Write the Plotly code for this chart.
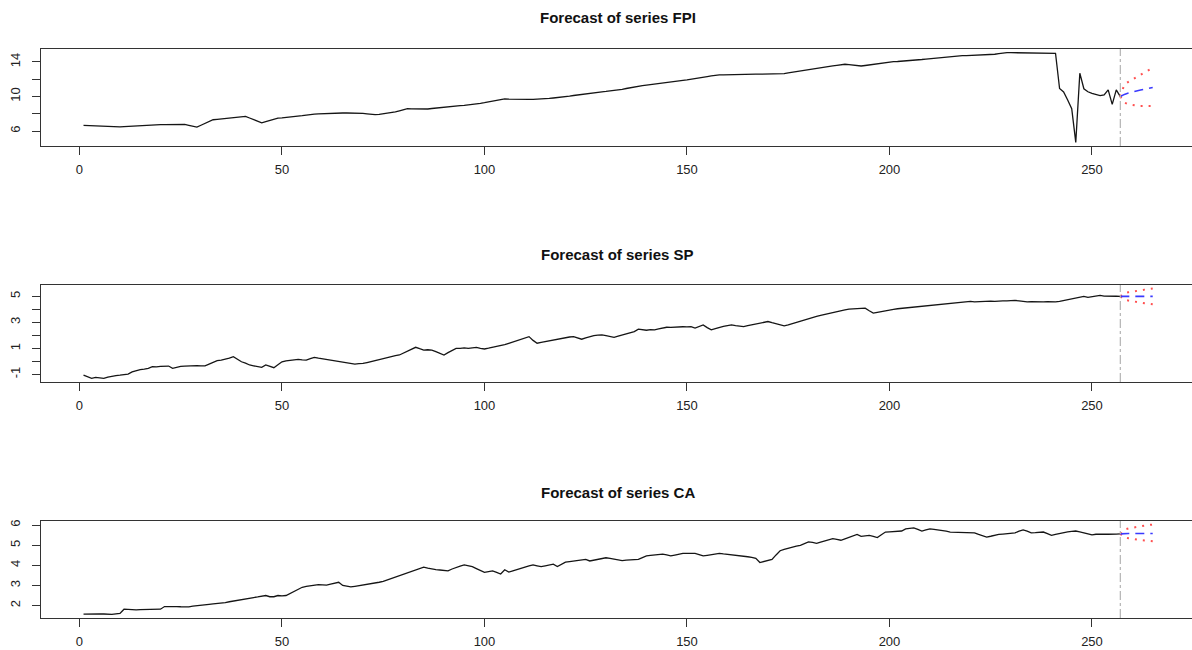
import plotly.graph_objects as go

# ---------------- data ----------------
n_obs = 257
fc_steps = [257, 258, 259, 260, 261, 262, 263, 264, 265]

fpi = [
    6.66, 6.64, 6.61, 6.59, 6.56, 6.54, 6.51, 6.49, 6.46, 6.49,
    6.53, 6.56, 6.60, 6.63, 6.67, 6.70, 6.74, 6.74, 6.75, 6.75,
    6.76, 6.76, 6.77, 6.77, 6.78, 6.78, 6.67, 6.57, 6.46, 6.68,
    6.89, 7.11, 7.32, 7.37, 7.41, 7.46, 7.51, 7.56, 7.60, 7.65,
    7.70, 7.52, 7.33, 7.15, 6.97, 7.10, 7.24, 7.37, 7.50, 7.53,
    7.57, 7.60, 7.63, 7.71, 7.79, 7.86, 7.94, 7.97, 7.99, 8.02,
    8.05, 8.07, 8.10, 8.10, 8.10, 8.10, 8.10, 8.10, 8.10, 8.05,
    8.00, 7.95, 7.90, 7.95, 8.00, 8.05, 8.10, 8.22, 8.35, 8.47,
    8.60, 8.57, 8.55, 8.52, 8.50, 8.56, 8.62, 8.68, 8.74, 8.80,
    8.84, 8.88, 8.92, 8.96, 8.99, 9.03, 9.07, 9.14, 9.22, 9.29,
    9.37, 9.46, 9.54, 9.63, 9.72, 9.70, 9.68, 9.67, 9.65, 9.66,
    9.67, 9.67, 9.68, 9.69, 9.74, 9.78, 9.83, 9.87, 9.92, 9.96,
    10.04, 10.12, 10.19, 10.27, 10.35, 10.40, 10.45, 10.50, 10.55, 10.59,
    10.64, 10.69, 10.74, 10.84, 10.93, 11.03, 11.12, 11.19, 11.25, 11.32,
    11.39, 11.45, 11.52, 11.58, 11.64, 11.70, 11.76, 11.82, 11.88, 11.93,
    11.99, 12.05, 12.14, 12.22, 12.31, 12.39, 12.48, 12.50, 12.51, 12.53,
    12.54, 12.56, 12.57, 12.59, 12.60, 12.60, 12.59, 12.59, 12.59, 12.58,
    12.58, 12.57, 12.57, 12.65, 12.74, 12.82, 12.90, 12.97, 13.05, 13.12,
    13.19, 13.27, 13.34, 13.41, 13.47, 13.54, 13.60, 13.67, 13.73, 13.68,
    13.63, 13.58, 13.53, 13.59, 13.66, 13.72, 13.78, 13.84, 13.91, 13.97,
    14.03, 14.05, 14.08, 14.10, 14.12, 14.17, 14.22, 14.28, 14.33, 14.38,
    14.43, 14.48, 14.52, 14.57, 14.61, 14.66, 14.70, 14.72, 14.73, 14.75,
    14.76, 14.78, 14.79, 14.81, 14.82, 14.89, 14.95, 15.02, 15.08, 15.07,
    15.07, 15.06, 15.05, 15.05, 15.04, 15.03, 15.03, 15.02, 15.01, 15.01,
    15.00, 10.93, 10.54, 9.60, 8.60, 4.70, 12.70, 10.90, 10.55, 10.36,
    10.25, 10.10, 10.20, 10.78, 9.10, 10.78, 10.00,
]
fpi_fc = [10.00, 10.25, 10.40, 10.55, 10.65, 10.75, 10.85, 10.95, 11.05]
fpi_up = [10.00, 11.40, 11.70, 12.00, 12.30, 12.55, 12.80, 13.05, 13.30]
fpi_lo = [10.00, 9.30, 9.10, 9.00, 8.95, 8.90, 8.90, 8.90, 8.90]

sp = [
    -1.05, -1.20, -1.30, -1.22, -1.26, -1.30, -1.20, -1.12, -1.08, -1.05,
    -1.01, -0.97, -0.80, -0.70, -0.62, -0.58, -0.53, -0.40, -0.42, -0.38,
    -0.36, -0.35, -0.53, -0.45, -0.38, -0.35, -0.33, -0.34, -0.32, -0.34,
    -0.33, -0.20, -0.05, 0.06, 0.10, 0.16, 0.25, 0.37, 0.15, -0.02,
    -0.12, -0.27, -0.33, -0.40, -0.45, -0.27, -0.35, -0.48, -0.25, -0.02,
    0.05, 0.10, 0.12, 0.16, 0.12, 0.10, 0.22, 0.32, 0.25, 0.20,
    0.18, 0.14, 0.10, 0.05, -0.02, -0.08, -0.15, -0.20, -0.16, -0.15,
    -0.08, 0.00, 0.08, 0.16, 0.24, 0.30, 0.38, 0.45, 0.50, 0.66,
    0.81, 0.95, 1.09, 0.98, 0.88, 0.90, 0.88, 0.75, 0.62, 0.50,
    0.68, 0.85, 1.01, 1.00, 1.05, 1.01, 1.06, 1.09, 1.00, 0.96,
    1.02, 1.08, 1.14, 1.19, 1.30, 1.40, 1.50, 1.60, 1.70, 1.80,
    1.91, 1.62, 1.40, 1.46, 1.52, 1.60, 1.66, 1.72, 1.79, 1.83,
    1.88, 1.91, 1.80, 1.71, 1.82, 1.92, 1.99, 2.02, 2.04, 1.98,
    1.92, 1.86, 1.95, 2.04, 2.13, 2.22, 2.30, 2.48, 2.45, 2.40,
    2.44, 2.43, 2.50, 2.57, 2.63, 2.62, 2.65, 2.64, 2.67, 2.66,
    2.68, 2.56, 2.70, 2.81, 2.60, 2.43, 2.53, 2.63, 2.70, 2.76,
    2.81, 2.76, 2.72, 2.68, 2.75, 2.82, 2.87, 2.94, 3.00, 3.07,
    2.98, 2.88, 2.80, 2.74, 2.82, 2.92, 3.00, 3.07, 3.17, 3.27,
    3.37, 3.46, 3.54, 3.62, 3.70, 3.77, 3.84, 3.90, 3.97, 4.03,
    4.05, 4.07, 4.10, 4.10, 3.90, 3.72, 3.78, 3.85, 3.91, 3.97,
    4.01, 4.05, 4.08, 4.12, 4.15, 4.18, 4.22, 4.25, 4.29, 4.32,
    4.36, 4.40, 4.42, 4.45, 4.48, 4.51, 4.55, 4.58, 4.61, 4.62,
    4.58, 4.60, 4.58, 4.61, 4.63, 4.62, 4.65, 4.66, 4.65, 4.68,
    4.69, 4.66, 4.62, 4.58, 4.60, 4.58, 4.55, 4.58, 4.60, 4.57,
    4.58, 4.62, 4.68, 4.74, 4.80, 4.86, 4.93, 5.00, 4.92, 4.96,
    5.02, 5.08, 5.02, 5.00, 4.98, 5.01, 5.00,
]
sp_fc = [5.00, 5.00, 5.00, 5.00, 5.00, 5.00, 5.00, 5.00, 5.00]
sp_up = [5.00, 5.25, 5.32, 5.38, 5.43, 5.48, 5.52, 5.56, 5.60]
sp_lo = [5.00, 4.75, 4.68, 4.62, 4.57, 4.52, 4.48, 4.44, 4.40]

ca = [
    1.57, 1.58, 1.60, 1.61, 1.59, 1.58, 1.57, 1.56, 1.59, 1.61,
    1.82, 1.80, 1.78, 1.79, 1.80, 1.81, 1.82, 1.80, 1.81, 1.82,
    1.95, 1.96, 1.95, 1.95, 1.94, 1.93, 1.93, 1.97, 2.00, 2.03,
    2.04, 2.06, 2.08, 2.10, 2.11, 2.15, 2.19, 2.23, 2.27, 2.31,
    2.34, 2.37, 2.40, 2.43, 2.47, 2.50, 2.44, 2.44, 2.50, 2.48,
    2.50, 2.60, 2.72, 2.82, 2.91, 2.95, 2.98, 3.01, 3.04, 3.03,
    3.02, 3.07, 3.12, 3.16, 3.00, 2.96, 2.93, 2.96, 2.99, 3.01,
    3.04, 3.08, 3.12, 3.16, 3.20, 3.27, 3.34, 3.41, 3.49, 3.56,
    3.63, 3.70, 3.77, 3.84, 3.91, 3.86, 3.81, 3.79, 3.77, 3.75,
    3.73, 3.82, 3.91, 3.96, 4.02, 3.98, 3.94, 3.84, 3.75, 3.65,
    3.69, 3.73, 3.65, 3.57, 3.78, 3.67, 3.73, 3.80, 3.86, 3.91,
    3.97, 4.02, 3.98, 3.94, 3.98, 4.02, 4.06, 3.94, 4.05, 4.16,
    4.19, 4.22, 4.25, 4.27, 4.30, 4.22, 4.26, 4.30, 4.34, 4.38,
    4.35, 4.31, 4.28, 4.24, 4.26, 4.27, 4.29, 4.30, 4.39, 4.47,
    4.50, 4.52, 4.54, 4.56, 4.52, 4.47, 4.51, 4.56, 4.60, 4.60,
    4.61, 4.60, 4.54, 4.47, 4.50, 4.54, 4.57, 4.60, 4.57, 4.55,
    4.53, 4.52, 4.49, 4.46, 4.43, 4.40, 4.35, 4.14, 4.20, 4.25,
    4.30, 4.52, 4.73, 4.80, 4.86, 4.92, 4.96, 5.00, 5.08, 5.17,
    5.14, 5.10, 5.16, 5.22, 5.28, 5.33, 5.29, 5.25, 5.32, 5.40,
    5.47, 5.54, 5.44, 5.46, 5.49, 5.44, 5.38, 5.52, 5.66, 5.67,
    5.69, 5.70, 5.71, 5.82, 5.85, 5.87, 5.79, 5.71, 5.77, 5.82,
    5.79, 5.77, 5.74, 5.70, 5.66, 5.65, 5.65, 5.64, 5.63, 5.63,
    5.62, 5.54, 5.48, 5.41, 5.45, 5.50, 5.54, 5.56, 5.58, 5.60,
    5.62, 5.70, 5.77, 5.70, 5.62, 5.63, 5.65, 5.66, 5.58, 5.49,
    5.54, 5.59, 5.64, 5.67, 5.69, 5.71, 5.67, 5.62, 5.57, 5.52,
    5.55, 5.57, 5.56, 5.55, 5.54, 5.56, 5.57,
]
ca_fc = [5.57, 5.59, 5.59, 5.59, 5.59, 5.59, 5.59, 5.59, 5.59]
ca_up = [5.57, 5.78, 5.84, 5.88, 5.92, 5.95, 5.98, 6.01, 6.03]
ca_lo = [5.57, 5.40, 5.35, 5.31, 5.28, 5.26, 5.24, 5.22, 5.20]

titles = ["Forecast of series FPI", "Forecast of series SP", "Forecast of series CA"]
x_ticks = [0, 50, 100, 150, 200, 250]
y_tickvals = [[6, 8, 10, 12, 14], [-1, 0, 1, 2, 3, 4, 5], [2, 3, 4, 5, 6]]
y_ticktext = [["6", "", "10", "", "14"], ["-1", "", "1", "", "3", "", "5"], ["2", "3", "4", "5", "6"]]

# ---------------- figure ----------------
W, H = 1192, 650
obs_x = list(range(1, n_obs + 1))
series = [(fpi, fpi_fc, fpi_up, fpi_lo), (sp, sp_fc, sp_up, sp_lo), (ca, ca_fc, ca_up, ca_lo)]
# panel boxes in pixels (top, bottom)
boxes = [(49, 146), (285, 382), (521, 618)]
title_y = [17, 255, 493]

fig = go.Figure()
font_family = "Liberation Sans, Arial, Helvetica, sans-serif"
axis_col = "#333333"

for k, (obs, fc, up, lo) in enumerate(series):
    xa = "x" if k == 0 else f"x{k+1}"
    ya = "y" if k == 0 else f"y{k+1}"
    fig.add_trace(go.Scatter(x=obs_x, y=obs, mode="lines", xaxis=xa, yaxis=ya,
                             line=dict(color="#151515", width=1.3), showlegend=False))
    fig.add_trace(go.Scatter(x=fc_steps, y=up, mode="lines", xaxis=xa, yaxis=ya,
                             line=dict(color="#ff5050", width=2, dash="2px,6px"), showlegend=False))
    fig.add_trace(go.Scatter(x=fc_steps, y=lo, mode="lines", xaxis=xa, yaxis=ya,
                             line=dict(color="#ff5050", width=2, dash="2px,6px"), showlegend=False))
    fig.add_trace(go.Scatter(x=fc_steps, y=fc, mode="lines", xaxis=xa, yaxis=ya,
                             line=dict(color="#3a3aff", width=1.6, dash="9px,6px"), showlegend=False))

    allv = obs + up + lo
    lo_v, hi_v = min(allv), max(allv)
    ext = 0.04 * (hi_v - lo_v)
    top, bot = boxes[k]
    dom = [1 - bot / H, 1 - top / H]
    xkey = "xaxis" if k == 0 else f"xaxis{k+1}"
    ykey = "yaxis" if k == 0 else f"yaxis{k+1}"
    fig.layout[xkey] = dict(
        domain=[41 / W, 1], range=[-9.5, 274.7], anchor=ya,
        tickvals=x_ticks, ticks="outside", ticklen=8, tickwidth=1.2, tickcolor=axis_col,
        showline=True, linecolor=axis_col, linewidth=1.3, mirror=True,
        showgrid=False, zeroline=False, ticklabelstandoff=3,
        tickfont=dict(family=font_family, size=13, color="#222222"),
    )
    fig.layout[ykey] = dict(
        domain=dom, range=[lo_v - ext, hi_v + ext], anchor=xa,
        tickvals=y_tickvals[k], ticktext=y_ticktext[k], tickangle=-90,
        ticks="outside", ticklen=8, tickwidth=1.2, tickcolor=axis_col,
        showline=True, linecolor=axis_col, linewidth=1.3,
        showgrid=False, zeroline=False, ticklabelstandoff=7,
        tickfont=dict(family=font_family, size=13, color="#222222"),
    )
    fig.add_shape(type="line", xref=xa, yref=f"{ya} domain", x0=n_obs, x1=n_obs, y0=0, y1=1,
                  line=dict(color="#b4b4b4", width=1.2, dash="dashdot"))
    fig.add_annotation(text=f"<b>{titles[k]}</b>", xref="paper", yref="paper",
                       x=(41 + 1195) / 2 / W, y=1 - title_y[k] / H, showarrow=False,
                       xanchor="center", yanchor="middle",
                       font=dict(family=font_family, size=15, color="#111111"))

fig.update_layout(width=W, height=H, margin=dict(l=0, r=0, t=0, b=0),
                  plot_bgcolor="white", paper_bgcolor="white")
fig.write_html("out.html", config={"displayModeBar": False},
               post_script="document.body.style.margin='0';")
